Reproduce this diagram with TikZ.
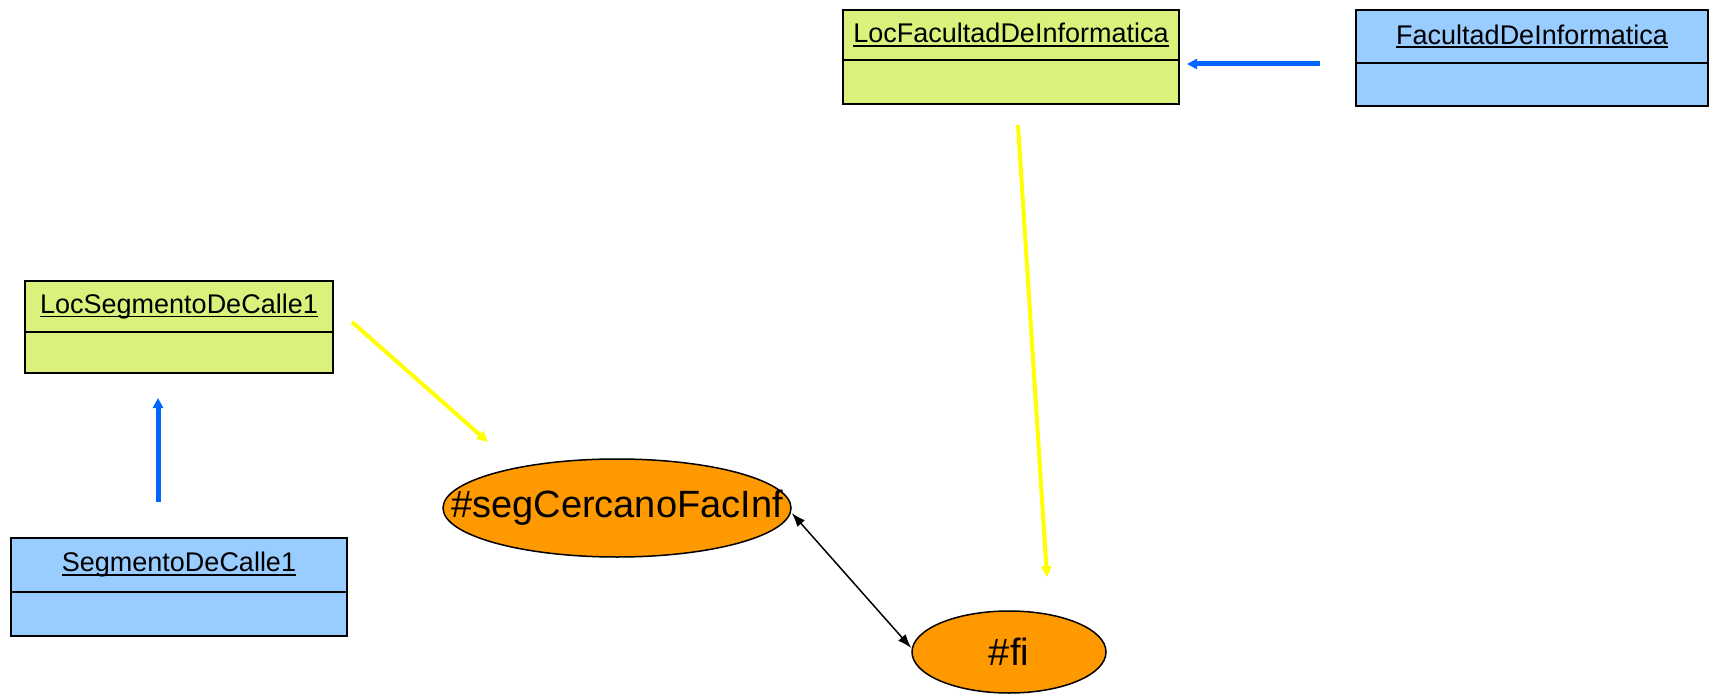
\documentclass[tikz,border=0pt]{standalone}
\usepackage{fontspec}
\setmainfont{Liberation Sans}
\usetikzlibrary{arrows.meta,positioning,shapes.geometric}
\definecolor{LocGreen}{RGB}{218,242,124}
\definecolor{ObjBlue}{RGB}{153,204,255}
\definecolor{VarOrange}{RGB}{255,153,0}
\definecolor{LinkBlue}{RGB}{0,102,255}
\definecolor{MapYellow}{RGB}{255,255,0}
% underlined object name
\newcommand{\objname}[1]{\setbox0=\hbox{#1}\rlap{\rule[-4pt]{\wd0}{1.8pt}}\box0}

\begin{document}
\begin{tikzpicture}[x=1pt,y=-1pt,
    hdr/.style={rectangle,draw=black,line width=2pt,outer sep=0pt,
                inner sep=0pt,font=\fontsize{27}{30}\selectfont},
    loc/.style={hdr,fill=LocGreen},
    obj/.style={hdr,fill=ObjBlue},
    var/.style={ellipse,draw=black,line width=1.5pt,fill=VarOrange,
                inner sep=0pt,font=\fontsize{38}{44}\selectfont},
    lnk/.style={-{Triangle[length=10pt,width=10pt]},LinkBlue,line width=5pt},
    map/.style={-{Triangle[length=11pt,width=10pt]},MapYellow,line width=4pt},
    dbl/.style={{Latex[length=14pt,width=10pt]}-{Latex[length=14pt,width=10pt]},
                black,line width=1.5pt}
  ]
  \useasboundingbox (0,0) rectangle (1710,695);

  \node[loc,minimum width=336,minimum height=50] (lfiH) at (1011,35)
    {\objname{LocFacultadDeInformatica}};
  \node[loc,minimum width=336,minimum height=44,below=0pt of lfiH] (lfiB) {};

  \node[obj,minimum width=352,minimum height=53] (fiH) at (1532,36.5)
    {\objname{FacultadDeInformatica}};
  \node[obj,minimum width=352,minimum height=43,below=0pt of fiH] (fiB) {};

  \node[loc,minimum width=308,minimum height=51] (lscH) at (179,306.5)
    {\objname{LocSegmentoDeCalle1}};
  \node[loc,minimum width=308,minimum height=41,below=0pt of lscH] (lscB) {};

  \node[obj,minimum width=336,minimum height=54] (scH) at (179,565)
    {\objname{SegmentoDeCalle1}};
  \node[obj,minimum width=336,minimum height=44,below=0pt of scH] (scB) {};

  \node[var,minimum width=348,minimum height=98] (seg) at (617,508)
    {\makebox[0pt]{\#segCercanoFacInf}};
  \node[var,minimum width=194,minimum height=82] (fiE) at (1009,652)
    {\makebox[0pt]{\#fi}};

  \draw[lnk] ([shift={(-36,1)}]fiH.south west) -- ([shift={(8,4)}]lfiH.south east);
  \draw[lnk] ([shift={(-21,-36)}]scH.north) -- ([shift={(-21,25)}]lscB.south);
  \draw[map] ([shift={(19,-10)}]lscH.south east) -- ([shift={(-129,-66)}]seg.center);
  \draw[map] ([shift={(7,21)}]lfiB.south) -- ([shift={(38,-33)}]fiE.north);
  \draw[dbl] ([shift={(0,5)}]seg.east) -- ([shift={(0,-4)}]fiE.west);
\end{tikzpicture}
\end{document}
